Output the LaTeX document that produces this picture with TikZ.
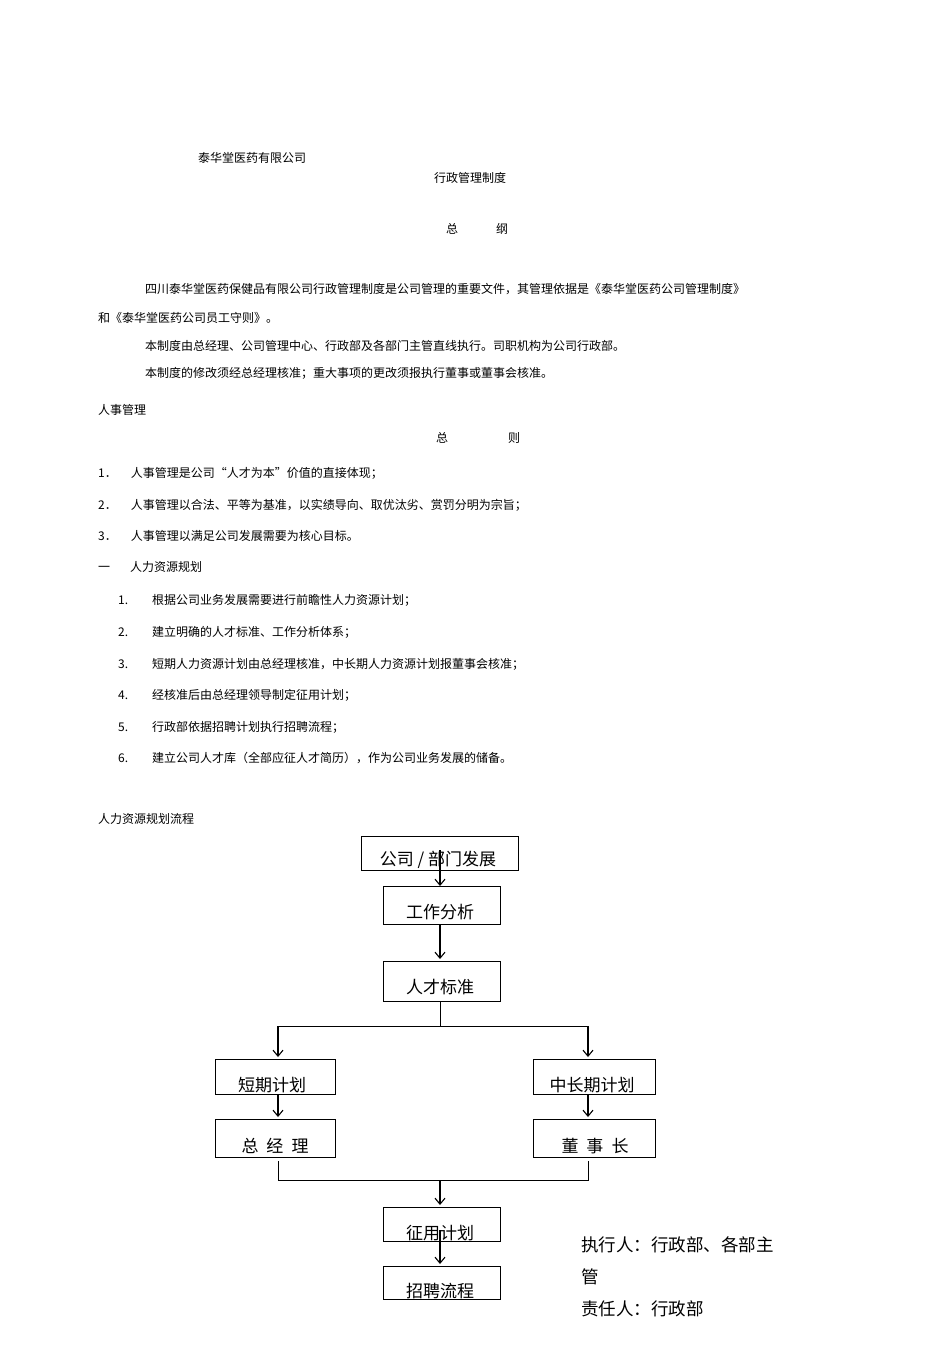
\documentclass[tikz,border=0pt]{standalone}
\usepackage{fontspec}
\setmainfont{Noto Sans CJK SC}
\usetikzlibrary{arrows.meta}
\begin{document}
\begin{tikzpicture}[x=1pt,y=-1pt,
  sm/.style={anchor=west,inner sep=0pt,font=\fontsize{12}{14}\selectfont},
  bx/.style={draw,line width=0.9pt},
  bt/.style={inner sep=0pt,font=\fontsize{17}{19}\selectfont},
  big/.style={anchor=west,inner sep=0pt,font=\fontsize{17.5}{20}\selectfont},
  ar/.style={-{Straight Barb[length=6pt,width=10pt]},line width=1.1pt},
  ln/.style={line width=0.8pt}]
\useasboundingbox (0,0) rectangle (950,1346);
\node[sm] (t1) at (198,158) {泰华堂医药有限公司};
\node[sm] (t2) at (434,178) {行政管理制度};
\node[sm] (t3) at (446,229) {总};
\node[sm] (t4) at (496,229) {纲};
\node[sm] (p1) at (145,289) {四川泰华堂医药保健品有限公司行政管理制度是公司管理的重要文件，其管理依据是《泰华堂医药公司管理制度》};
\node[sm] (p2) at (98,318) {和《泰华堂医药公司员工守则》。};
\node[sm] (p3) at (145,346) {本制度由总经理、公司管理中心、行政部及各部门主管直线执行。司职机构为公司行政部。};
\node[sm] (p4) at (145,373) {本制度的修改须经总经理核准；重大事项的更改须报执行董事或董事会核准。};
\node[sm] (h1) at (98,410) {人事管理};
\node[sm] (h2) at (436,438) {总};
\node[sm] (h3) at (508,438) {则};
\node[sm] (a1) at (98,473) {1．\hspace{14pt}人事管理是公司“人才为本”价值的直接体现；};
\node[sm] (a2) at (98,505) {2．\hspace{14pt}人事管理以合法、平等为基准，以实绩导向、取优汰劣、赏罚分明为宗旨；};
\node[sm] (a3) at (98,536) {3．\hspace{14pt}人事管理以满足公司发展需要为核心目标。};
\node[sm] (h4) at (98,567) {一\hspace{20pt}人力资源规划};
\foreach \n/\y/\t in {1/600/根据公司业务发展需要进行前瞻性人力资源计划；,2/632/建立明确的人才标准、工作分析体系；,3/664/短期人力资源计划由总经理核准，中长期人力资源计划报董事会核准；,4/695/经核准后由总经理领导制定征用计划；,5/727/行政部依据招聘计划执行招聘流程；,6/758/建立公司人才库（全部应征人才简历），作为公司业务发展的储备。}{
  \node[sm] (n\n) at (118,\y) {\n.};
  \node[sm] (i\n) at (152,\y) {\t};
}
\node[sm] (h5) at (98,819) {人力资源规划流程};
% boxes
\draw[bx] (361,836) rectangle (518,870);
\draw[bx] (383,886) rectangle (500,924);
\draw[bx] (383,961) rectangle (500,1001);
\draw[bx] (215,1059) rectangle (335,1094);
\draw[bx] (533,1059) rectangle (655,1094);
\draw[bx] (215,1119) rectangle (335,1157);
\draw[bx] (533,1119) rectangle (655,1157);
\draw[bx] (383,1207) rectangle (500,1241);
\draw[bx] (383,1266) rectangle (500,1299);
\node[bt] (b1) at (438,860) {公司 / 部门发展};
\node[bt] (b2) at (440,912) {工作分析};
\node[bt] (b3) at (440,987) {人才标准};
\node[bt] (b4) at (272,1085) {短期计划};
\node[bt] (b5) at (592,1085) {中长期计划};
\node[bt] (b6) at (275,1146) {总\hspace{8pt}经\hspace{8pt}理};
\node[bt] (b7) at (595,1146) {董\hspace{8pt}事\hspace{8pt}长};
\node[bt] (b8) at (440,1233) {征用计划};
\node[bt] (b9) at (440,1291) {招聘流程};
\coordinate (s1) at (440,850);
\coordinate (s1e) at (440,886);
\draw[ar] (s1) -- (s1e);
\draw[ar] (440,924) -- (440,959);
\draw[ln] (440,1001) -- (440,1026);
\draw[ln] (278,1026) -- (588,1026);
\draw[ar] (278,1026) -- (278,1057);
\draw[ar] (588,1026) -- (588,1057);
\draw[ar] (278,1094) -- (278,1117);
\draw[ar] (588,1094) -- (588,1117);
\draw[ln] (278,1161) -- (278,1180) -- (588,1180) -- (588,1161);
\draw[ar] (440,1180) -- (440,1205);
\draw[ar] (440,1230) -- (440,1264);
\node[big] (r1) at (581,1245) {执行人：行政部、各部主};
\node[big] (r2) at (581,1277) {管};
\node[big] (r3) at (581,1309) {责任人：行政部};
\end{tikzpicture}
\end{document}
